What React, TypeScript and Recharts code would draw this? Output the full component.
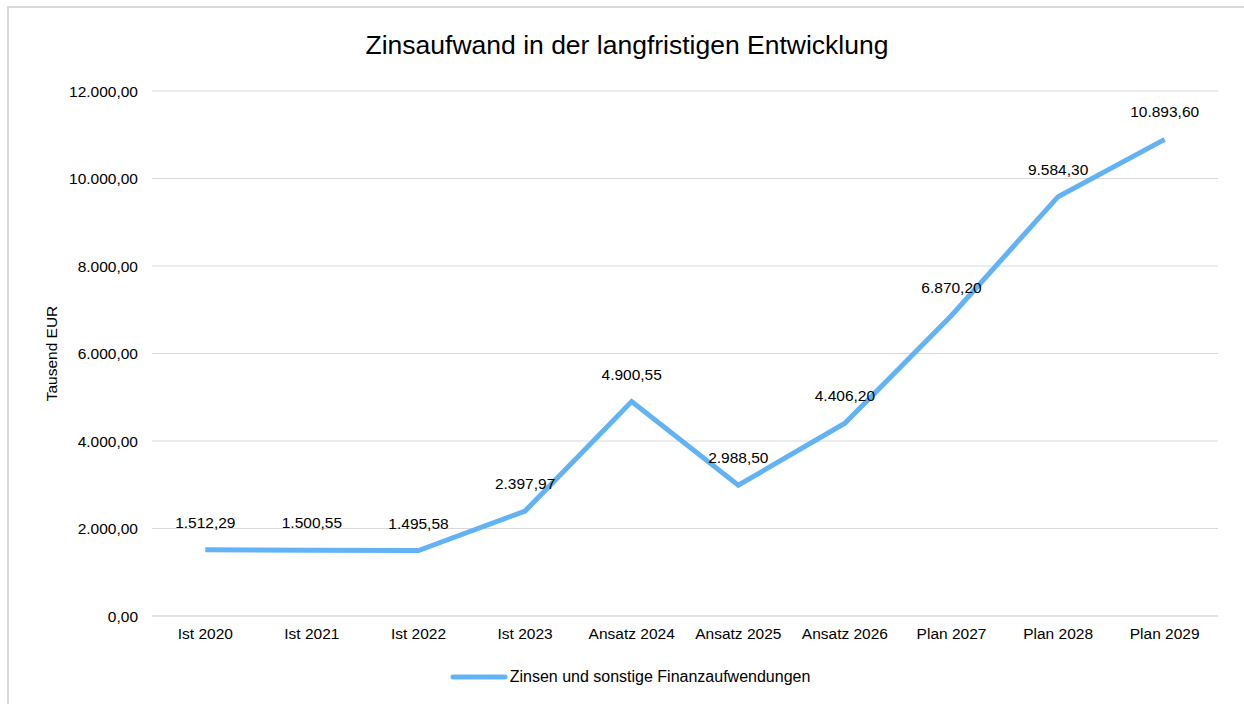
import { CartesianGrid, LabelList, Line, LineChart, XAxis, YAxis } from "recharts";

const categories = [
  "Ist 2020",
  "Ist 2021",
  "Ist 2022",
  "Ist 2023",
  "Ansatz 2024",
  "Ansatz 2025",
  "Ansatz 2026",
  "Plan 2027",
  "Plan 2028",
  "Plan 2029",
];
const zinsen = [1512.29, 1500.55, 1495.58, 2397.97, 4900.55, 2988.5, 4406.2, 6870.2, 9584.3, 10893.6];
const yTicks = [0, 2000, 4000, 6000, 8000, 10000, 12000];

const seriesName = "Zinsen und sonstige Finanzaufwendungen";
const title = "Zinsaufwand in der langfristigen Entwicklung";
const font = "'Liberation Sans', Arial, sans-serif";
const blue = "#63B3F4";

const data = categories.map((c, i) => ({ name: c, value: zinsen[i] }));

// German format: 12.000,00
function fmt(v: number) {
  const [int, dec] = Math.abs(v).toFixed(2).split(".");
  const withDots = int.replace(/\B(?=(\d{3})+(?!\d))/g, ".");
  return (v < 0 ? "-" : "") + withDots + "," + dec;
}

export default function App() {
  return (
    <div style={{ position: "absolute", left: 0, top: 0, width: 1244, height: 704, background: "#fff", overflow: "hidden" }}>
      <div
        style={{
          position: "absolute",
          left: 7,
          top: 6,
          width: 1260,
          height: 720,
          border: "2px solid #d9d9d9",
          boxSizing: "border-box",
        }}
      />
      <div
        style={{
          position: "absolute",
          left: 8,
          width: 1238,
          top: 30,
          textAlign: "center",
          fontFamily: font,
          fontSize: 26.5,
          color: "#000",
        }}
      >
        {title}
      </div>
      <div style={{ position: "absolute", left: 0, top: 0 }}>
        <LineChart width={1244} height={704} data={data} margin={{ top: 91, right: 26, bottom: 58, left: 0 }}>
          <CartesianGrid vertical={false} stroke="#d9d9d9" strokeWidth={1} />
          <XAxis
            dataKey="name"
            axisLine={{ stroke: "#d9d9d9" }}
            tickLine={false}
            tickSize={0}
            tickMargin={12}
            interval={0}
            tick={{ fill: "#000", fontSize: 15.5, fontFamily: font }}
            padding={{ left: 0, right: 0 }}
            scale="band"
          />
          <YAxis
            width={152}
            domain={[0, 12000]}
            ticks={yTicks}
            axisLine={false}
            tickLine={false}
            tickSize={0}
            tickMargin={14}
            tickFormatter={fmt}
            tick={{ fill: "#000", fontSize: 15.5, fontFamily: font }}
            label={{
              value: "Tausend EUR",
              angle: -90,
              position: "insideLeft",
              offset: 51,
              style: { fill: "#000", fontSize: 15.5, fontFamily: font, textAnchor: "middle" },
            }}
          />
          <Line
            type="linear"
            dataKey="value"
            name={seriesName}
            stroke={blue}
            strokeWidth={5}
            dot={false}
            activeDot={false}
            isAnimationActive={false}
          >
            <LabelList
              dataKey="value"
              position="top"
              offset={22}
              formatter={(v: number) => fmt(v)}
              style={{ fill: "#000", fontSize: 15.5, fontFamily: font }}
            />
          </Line>
        </LineChart>
      </div>
      <div
        style={{
          position: "absolute",
          left: 0,
          width: 1260,
          top: 668,
          display: "flex",
          justifyContent: "center",
          alignItems: "center",
          fontFamily: font,
          fontSize: 16,
          color: "#000",
        }}
      >
        <svg width={58} height={8} style={{ marginRight: 2 }}>
          <line x1={3} y1={4} x2={55} y2={4} stroke={blue} strokeWidth={5} strokeLinecap="round" />
        </svg>
        <span>{seriesName}</span>
      </div>
    </div>
  );
}
